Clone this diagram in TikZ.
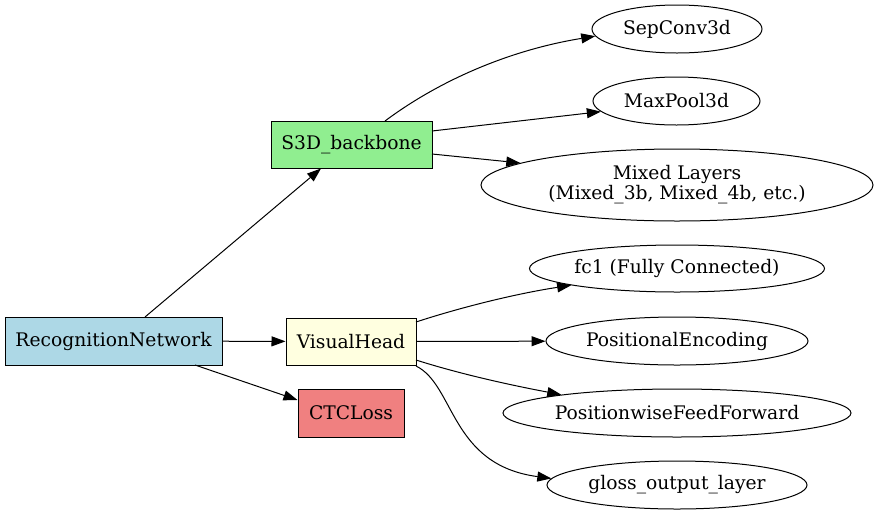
\documentclass[tikz,border=0pt]{standalone}
\usepackage{fontspec}
\setmainfont{DejaVu Serif}
\usetikzlibrary{shapes.geometric,arrows.meta}
\definecolor{lblue}{HTML}{ADD8E6}
\definecolor{lgreen}{HTML}{90EE90}
\definecolor{lyellow}{HTML}{FFFFE0}
\definecolor{lcoral}{HTML}{F08080}
\tikzset{
  box/.style={draw=black, line width=1pt, rectangle, inner sep=0pt, font=\fontsize{18.7}{21}\selectfont},
  oval/.style={draw=black, line width=1pt, ellipse, inner sep=0pt, font=\fontsize{18.7}{20}\selectfont, align=center},
  edge/.style={draw=black, line width=1pt, -{Triangle[length=14pt,width=10pt]}},
}
\begin{document}
\begin{tikzpicture}[x=1pt,y=-1pt]
\useasboundingbox (0,0) rectangle (879,515);
% boxes
\node[box, fill=lblue, minimum width=217pt, minimum height=48pt] (rn) at (113.5,341) {RecognitionNetwork};
\node[box, fill=lgreen, minimum width=161pt, minimum height=47pt] (s3d) at (351.5,144.5) {S3D\_backbone};
\node[box, fill=lyellow, minimum width=130pt, minimum height=47pt] (vh) at (351,341.5) {VisualHead};
\node[box, fill=lcoral, minimum width=106pt, minimum height=48pt] (ctc) at (351,413) {CTCLoss};
% ellipses
\node[oval, minimum width=170pt, minimum height=48pt] (sep) at (677,29) {SepConv3d};
\node[oval, minimum width=167pt, minimum height=48pt] (mp) at (676.5,101) {MaxPool3d};
\node[oval, minimum width=392pt, minimum height=72pt] (mix) at (677,185) {Mixed Layers\\(Mixed\_3b, Mixed\_4b, etc.)};
\node[oval, minimum width=295pt, minimum height=47pt] (fc) at (677,268.5) {fc1 (Fully Connected)};
\node[oval, minimum width=262pt, minimum height=48pt] (pe) at (677,341) {PositionalEncoding};
\node[oval, minimum width=348pt, minimum height=48pt] (pff) at (677,413) {PositionwiseFeedForward};
\node[oval, minimum width=260pt, minimum height=48pt] (gl) at (677,485) {gloss\_output\_layer};
% edges
\coordinate (rnA) at (145,317);
\coordinate (rnB) at (195,365);
\coordinate (sA) at (385,121);
\coordinate (sB) at (432,131);
\coordinate (sC) at (432,154);
\coordinate (vA) at (416,322);
\coordinate (vB) at (416,360);
\coordinate (vC) at (416,366);
\draw[edge] (rnA) -- (s3d.south west -| 321,0);
\draw[edge] (rn) -- (vh);
\draw[edge] (rnB) -- (ctc.west |- 0,400);
\draw[edge] (sA) .. controls (440,80) and (510,50) .. (sep.185);
\draw[edge] (sB) -- (mp.188);
\draw[edge] (sC) -- (mix.172.6);
\draw[edge] (vA) .. controls (465,306) and (520,293) .. (fc.189.5);
\draw[edge] (vh) -- (pe);
\draw[edge] (vB) .. controls (460,374) and (510,385) .. (pff.171);
\draw[edge] (vC) .. controls (455,385) and (450,465) .. (gl.177);
\end{tikzpicture}
\end{document}
